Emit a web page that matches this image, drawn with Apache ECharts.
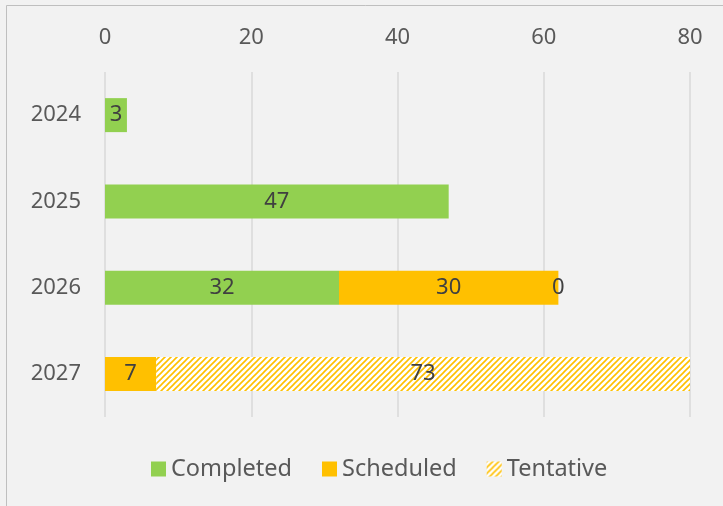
<!DOCTYPE html>
<html>
<head>
<meta charset="utf-8">
<script src="https://cdn.jsdelivr.net/npm/echarts@6/dist/echarts.min.js"></script>
<style>
html, body { margin: 0; padding: 0; background: #f2f2f2; }
#chart { width: 723px; height: 506px; }
</style>
</head>
<body>
<div id="chart"></div>
<script>
var years = ['2024', '2025', '2026', '2027'];
var completed = [3, 47, 32, '-'];
var scheduled = ['-', '-', 30, 7];
var tentative = ['-', '-', 0, 73];
var xTicks = [0, 80, 20];

// hatch pattern for the tentative bar
function hatch() {
	var c = document.createElement('canvas');
	c.width = 6;
	c.height = 6;
	var ctx = c.getContext('2d');
	ctx.fillStyle = '#ffffff';
	ctx.fillRect(0, 0, 6, 6);
	ctx.strokeStyle = '#ffc000';
	ctx.lineWidth = 1.6;
	ctx.beginPath();
	ctx.moveTo(-1, 7); ctx.lineTo(7, -1);
	ctx.moveTo(-1, 1); ctx.lineTo(1, -1);
	ctx.moveTo(5, 7); ctx.lineTo(7, 5);
	ctx.stroke();
	return c;
}

var font = '"Noto Sans", sans-serif';
var lbl = {show: true, position: 'inside', color: '#404040', fontSize: 22, fontFamily: font};

var chart = echarts.init(document.getElementById('chart'));
chart.setOption({
	backgroundColor: '#f2f2f2',
	animation: false,
	graphic: [{
		type: 'rect',
		shape: {x: 6.5, y: 5.5, width: 800, height: 600},
		style: {fill: 'none', stroke: '#bfbfbf', lineWidth: 1}
	}],
	grid: {left: 105, right: 33, top: 72, bottom: 89},
	legend: {
		bottom: 20,
		left: 146,
		itemWidth: 15,
		itemHeight: 15,
		itemGap: 30,
		icon: 'rect',
		textStyle: {color: '#595959', fontSize: 23.5, fontFamily: font},
		data: ['Completed', 'Scheduled', 'Tentative']
	},
	xAxis: {
		type: 'value',
		position: 'top',
		min: xTicks[0],
		max: xTicks[1],
		interval: xTicks[2],
		axisLine: {show: false},
		axisTick: {show: false},
		splitLine: {lineStyle: {color: '#d9d9d9', width: 1.5}},
		axisLabel: {color: '#595959', fontSize: 22, fontFamily: font, margin: 23}
	},
	yAxis: {
		type: 'category',
		inverse: true,
		data: years,
		axisLine: {show: false},
		axisTick: {show: false},
		axisLabel: {color: '#595959', fontSize: 22, fontFamily: font, margin: 24}
	},
	series: [
		{name: 'Completed', type: 'bar', stack: 'a', barWidth: 34, data: completed,
			itemStyle: {color: '#92d050'}, label: lbl},
		{name: 'Scheduled', type: 'bar', stack: 'a', data: scheduled,
			itemStyle: {color: '#ffc000'}, label: lbl},
		{name: 'Tentative', type: 'bar', stack: 'a', data: tentative,
			itemStyle: {color: {image: hatch(), repeat: 'repeat'}}, label: lbl}
	]
});
</script>
</body>
</html>
